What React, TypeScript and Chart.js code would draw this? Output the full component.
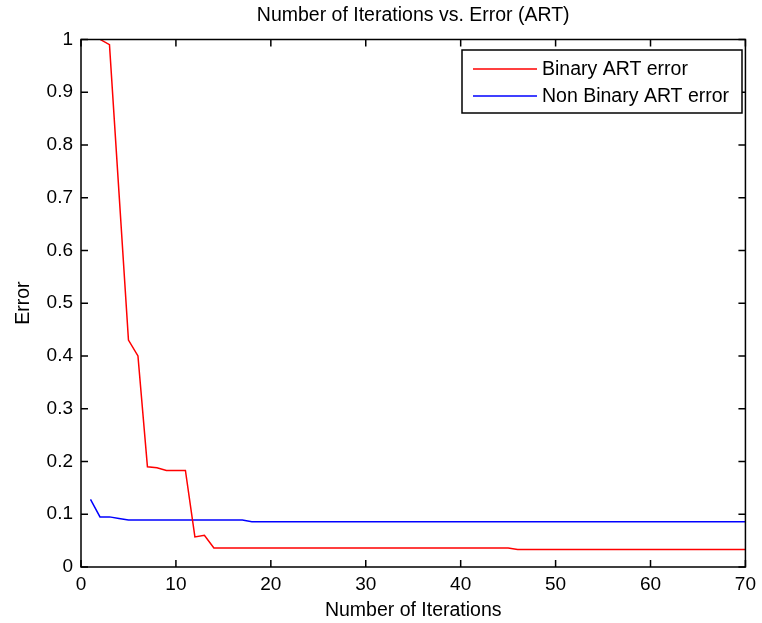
import React, { useEffect, useRef } from 'react';
import { Chart, registerables } from 'chart.js';

Chart.register(...registerables);

const TITLE = 'Number of Iterations vs. Error (ART)';
const X_LABEL = 'Number of Iterations';
const Y_LABEL = 'Error';
const SERIES_NAMES = ['Binary ART error', 'Non Binary ART error'];
const SERIES_COLORS = ['#ff0000', '#0000ff'];

const iterations = Array.from({ length: 70 }, (_, i) => i + 1);

const binaryError = [
  1.3, 1.0, 0.99, 0.71, 0.43, 0.40, 0.19, 0.188, 0.183, 0.183,
  0.183, 0.057, 0.06, 0.036, 0.036, 0.036, 0.036, 0.036, 0.036, 0.036,
  0.036, 0.036, 0.036, 0.036, 0.036, 0.036, 0.036, 0.036, 0.036, 0.036,
  0.036, 0.036, 0.036, 0.036, 0.036, 0.036, 0.036, 0.036, 0.036, 0.036,
  0.036, 0.036, 0.036, 0.036, 0.036, 0.033, 0.033, 0.033, 0.033, 0.033,
  0.033, 0.033, 0.033, 0.033, 0.033, 0.033, 0.033, 0.033, 0.033, 0.033,
  0.033, 0.033, 0.033, 0.033, 0.033, 0.033, 0.033, 0.033, 0.033, 0.033,
];

const nonBinaryError = [
  0.128, 0.095, 0.095, 0.092, 0.089, 0.089, 0.089, 0.089, 0.089, 0.089,
  0.089, 0.089, 0.089, 0.089, 0.089, 0.089, 0.089, 0.086, 0.086, 0.086,
  0.086, 0.086, 0.086, 0.086, 0.086, 0.086, 0.086, 0.086, 0.086, 0.086,
  0.086, 0.086, 0.086, 0.086, 0.086, 0.086, 0.086, 0.086, 0.086, 0.086,
  0.086, 0.086, 0.086, 0.086, 0.086, 0.086, 0.086, 0.086, 0.086, 0.086,
  0.086, 0.086, 0.086, 0.086, 0.086, 0.086, 0.086, 0.086, 0.086, 0.086,
  0.086, 0.086, 0.086, 0.086, 0.086, 0.086, 0.086, 0.086, 0.086, 0.086,
];

const FONT = "'Liberation Sans', Arial, Helvetica, sans-serif";
const FONT_SIZE = 19;
const LABEL_SIZE = 19.5;

const boxPlugin = {
  id: 'matlabBox',
  afterDatasetsDraw(chart: any) {
    const { ctx, chartArea, scales } = chart;
    const { left, right, top, bottom } = chartArea;
    const tl = 7;
    ctx.save();
    ctx.strokeStyle = '#000';
    ctx.lineWidth = 1.5;
    ctx.beginPath();
    ctx.rect(left, top, right - left, bottom - top);
    ctx.stroke();
    ctx.beginPath();
    scales.x.ticks.forEach((t: any) => {
      const px = scales.x.getPixelForValue(t.value);
      ctx.moveTo(px, bottom);
      ctx.lineTo(px, bottom - tl);
      ctx.moveTo(px, top);
      ctx.lineTo(px, top + tl);
    });
    scales.y.ticks.forEach((t: any) => {
      const py = scales.y.getPixelForValue(t.value);
      ctx.moveTo(left, py);
      ctx.lineTo(left + tl, py);
      ctx.moveTo(right, py);
      ctx.lineTo(right - tl, py);
    });
    ctx.stroke();
    ctx.restore();
  },
  afterDraw(chart: any) {
    const { ctx } = chart;
    const bx = 462, by = 50, bw = 280, bh = 63;
    ctx.save();
    ctx.fillStyle = '#fff';
    ctx.fillRect(bx, by, bw, bh);
    ctx.strokeStyle = '#000';
    ctx.lineWidth = 1.5;
    ctx.strokeRect(bx, by, bw, bh);
    const rows = [69, 96];
    ctx.font = `${LABEL_SIZE}px ${FONT}`;
    ctx.textBaseline = 'middle';
    ctx.textAlign = 'left';
    SERIES_NAMES.forEach((name, i) => {
      ctx.strokeStyle = SERIES_COLORS[i];
      ctx.lineWidth = 1.5;
      ctx.beginPath();
      ctx.moveTo(473, rows[i]);
      ctx.lineTo(537, rows[i]);
      ctx.stroke();
      ctx.fillStyle = '#000';
      ctx.fillText(name, 542, rows[i] + 1);
    });
    ctx.restore();
  },
};

export default function App() {
  const canvasRef = useRef<HTMLCanvasElement | null>(null);

  useEffect(() => {
    if (!canvasRef.current) return;
    Chart.defaults.font.family = FONT;
    Chart.defaults.font.size = FONT_SIZE;
    Chart.defaults.color = '#000';
    const chart = new Chart(canvasRef.current, {
      type: 'line',
      data: {
        datasets: [
          {
            label: SERIES_NAMES[0],
            data: iterations.map((x, i) => ({ x, y: binaryError[i] })),
            borderColor: SERIES_COLORS[0],
            borderWidth: 1.5,
            pointRadius: 0,
            tension: 0,
            fill: false,
          },
          {
            label: SERIES_NAMES[1],
            data: iterations.map((x, i) => ({ x, y: nonBinaryError[i] })),
            borderColor: SERIES_COLORS[1],
            borderWidth: 1.5,
            pointRadius: 0,
            tension: 0,
            fill: false,
          },
        ],
      },
      options: {
        animation: false,
        responsive: false,
        maintainAspectRatio: false,
        layout: { padding: { left: 0, right: 11, top: 0, bottom: 0 } },
        plugins: {
          legend: { display: false },
          tooltip: { enabled: false },
          title: {
            display: true,
            fullSize: false,
            text: TITLE,
            color: '#000',
            font: { size: LABEL_SIZE, weight: 'normal' as any, family: FONT },
            padding: { top: 4, bottom: 12 },
          },
        },
        scales: {
          x: {
            type: 'linear',
            min: 0,
            max: 70,
            ticks: {
              stepSize: 10,
              padding: 6,
              maxRotation: 0,
              color: '#000',
              font: { size: FONT_SIZE, family: FONT },
            },
            grid: { display: false, drawTicks: false },
            border: { display: false },
            title: {
              display: true,
              text: X_LABEL,
              color: '#000',
              font: { size: LABEL_SIZE, family: FONT },
              padding: { top: 0, bottom: 1 },
            },
            afterFit: (s: any) => {
              s.height = 56;
            },
          },
          y: {
            type: 'linear',
            min: 0,
            max: 1,
            ticks: {
              stepSize: 0.1,
              padding: 8,
              color: '#000',
              font: { size: FONT_SIZE, family: FONT },
              callback: (v: any) => String(Math.round(Number(v) * 10) / 10),
            },
            grid: { display: false, drawTicks: false },
            border: { display: false },
            title: {
              display: true,
              text: Y_LABEL,
              color: '#000',
              font: { size: LABEL_SIZE, family: FONT },
              padding: { top: 12, bottom: 0 },
            },
            afterFit: (s: any) => {
              s.width = 81;
            },
          },
        },
      },
      plugins: [boxPlugin],
    });
    return () => chart.destroy();
  }, []);

  return (
    <div style={{ position: 'absolute', left: 0, top: 0, width: 762, height: 623, background: '#fff' }}>
      <canvas ref={canvasRef} width={762} height={623} style={{ display: 'block' }} />
    </div>
  );
}
